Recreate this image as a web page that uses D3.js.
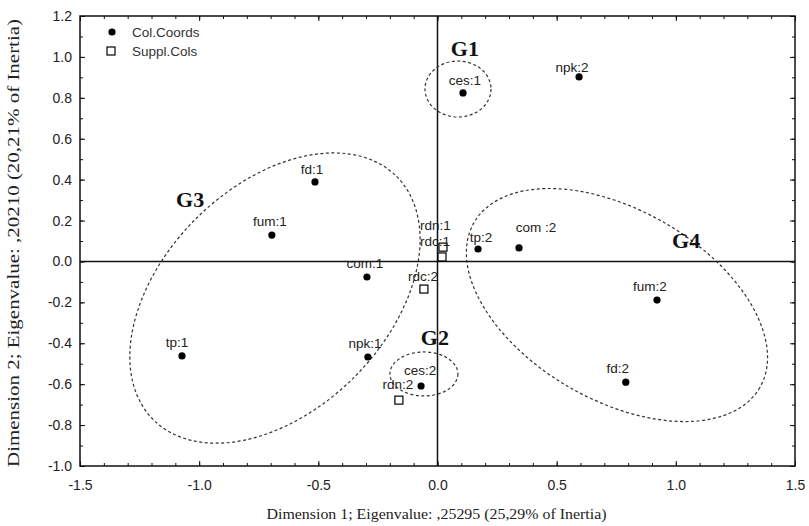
<!DOCTYPE html>
<html><head><meta charset="utf-8">
<script src="https://cdn.jsdelivr.net/npm/d3@7"></script>
<style>body{margin:0;background:#fff}</style>
</head><body>
<svg id="c" width="809" height="526"></svg>
<script>
// ---- data ----
const colLabels = ["ces:1","npk:2","fd:1","fum:1","com:1","tp:1","npk:1","ces:2","tp:2","com :2","fum:2","fd:2"];
const colX = [0.107, 0.594, -0.514, -0.695, -0.296, -1.072, -0.292, -0.069, 0.170, 0.342, 0.921, 0.790];
const colY = [0.824, 0.902, 0.389, 0.129, -0.076, -0.462, -0.467, -0.609, 0.061, 0.066, -0.189, -0.590];
const supLabels = ["rdn:1","rdc:1","rdc:2","rdn:2"];
const supX = [0.023, 0.019, -0.057, -0.162];
const supY = [0.070, 0.022, -0.135, -0.678];
const groupNames = ["G1","G2","G3","G4"];
const groupCx = [0.086, -0.057, -0.682, 0.753];
const groupCy = [0.843, -0.550, -0.179, -0.213];
const groupLabelX = [0.115, -0.011, -1.038, 1.043];
const groupLabelY = [1.004, -0.409, 0.266, 0.066];
const xTickValues = [-1.5, -1.0, -0.5, 0.0, 0.5, 1.0, 1.5];
const xTickLabels = ["-1.5","-1.0","-0.5","0.0","0.5","1.0","1.5"];
const yTickValues = [-1.0,-0.8,-0.6,-0.4,-0.2,0.0,0.2,0.4,0.6,0.8,1.0,1.2];
const yTickLabels = ["-1.0","-0.8","-0.6","-0.4","-0.2","0.0","0.2","0.4","0.6","0.8","1.0","1.2"];
const legendLabels = ["Col.Coords","Suppl.Cols"];
const xTitle = "Dimension 1; Eigenvalue: ,25295 (25,29% of Inertia)";
const yTitle = "Dimension 2; Eigenvalue: ,20210 (20,21% of Inertia)";

// ---- style / layout ----
const L = 80, R = 795, T = 16, B = 466;
const ellipseStyle = [ {rx:33, ry:28, rot:0}, {rx:34, ry:22, rot:0}, {rx:172, ry:112, rot:-45}, {rx:165, ry:95, rot:30} ];
const labelOff = {
  "ces:1":[2,-8,"middle"], "npk:2":[-7,-5,"middle"], "fd:1":[-3,-8,"middle"], "fum:1":[-2,-9,"middle"],
  "com:1":[-2,-9,"middle"], "tp:1":[-5,-9,"middle"], "npk:1":[-3,-9,"middle"], "ces:2":[-1,-11,"middle"],
  "tp:2":[3,-7,"middle"], "com :2":[17,-16,"middle"], "fum:2":[-7,-9,"middle"], "fd:2":[-8,-9,"middle"],
  "rdn:1":[-23,-17,"start"], "rdc:1":[-22,-11,"start"], "rdc:2":[-1,-8,"middle"], "rdn:2":[-1,-11,"middle"]
};

const svg = d3.select("#c");
const x = d3.scaleLinear().domain([-1.5, 1.5]).range([L, R]);
const y = d3.scaleLinear().domain([-1.0, 1.2]).range([B, T]);
const ink = "#111";
const sans = "'Liberation Sans', Arial, sans-serif";
const serif = "'Liberation Serif', 'Times New Roman', serif";

function styleAxis(g){ g.select(".domain").remove(); g.selectAll("line").attr("stroke", ink).attr("stroke-width",1); }
const xMinor = x.ticks(30), yMinor = y.ticks(22);
// minor ticks on all sides
svg.append("g").attr("transform",`translate(0,${B})`).call(d3.axisBottom(x).tickValues(xMinor).tickSize(-3).tickFormat("")).call(styleAxis);
svg.append("g").attr("transform",`translate(0,${T})`).call(d3.axisTop(x).tickValues(xMinor).tickSize(-3).tickFormat("")).call(styleAxis);
svg.append("g").attr("transform",`translate(${L},0)`).call(d3.axisLeft(y).tickValues(yMinor).tickSize(-3).tickFormat("")).call(styleAxis);
svg.append("g").attr("transform",`translate(${R},0)`).call(d3.axisRight(y).tickValues(yMinor).tickSize(-3).tickFormat("")).call(styleAxis);
// major ticks with labels
const gxb = svg.append("g").attr("transform",`translate(0,${B})`)
  .call(d3.axisBottom(x).tickValues(xTickValues).tickSize(-5).tickPadding(14).tickFormat((d,i)=>xTickLabels[i])).call(styleAxis);
gxb.selectAll("text").attr("font-family",sans).attr("font-size",14).attr("fill","#222");
const gyl = svg.append("g").attr("transform",`translate(${L},0)`)
  .call(d3.axisLeft(y).tickValues(yTickValues).tickSize(-5).tickPadding(8).tickFormat((d,i)=>yTickLabels[i])).call(styleAxis);
gyl.selectAll("text").attr("font-family",sans).attr("font-size",14).attr("fill","#222");
svg.append("g").attr("transform",`translate(0,${T})`).call(d3.axisTop(x).tickValues(xTickValues).tickSize(-5).tickFormat("")).call(styleAxis);
svg.append("g").attr("transform",`translate(${R},0)`).call(d3.axisRight(y).tickValues(yTickValues).tickSize(-5).tickFormat("")).call(styleAxis);

// frame
svg.append("rect").attr("x",L).attr("y",T).attr("width",R-L).attr("height",B-T)
  .attr("fill","none").attr("stroke",ink).attr("stroke-width",1.5);
// zero lines
svg.append("line").attr("x1",x(0)).attr("x2",x(0)).attr("y1",T).attr("y2",B).attr("stroke",ink).attr("stroke-width",1.5);
svg.append("line").attr("x1",L).attr("x2",R).attr("y1",y(0)).attr("y2",y(0)).attr("stroke",ink).attr("stroke-width",1.5);

// ellipses
groupNames.forEach((n,i)=>{
  const s = ellipseStyle[i];
  svg.append("ellipse").attr("cx",0).attr("cy",0).attr("rx",s.rx).attr("ry",s.ry)
    .attr("transform",`translate(${x(groupCx[i])},${y(groupCy[i])}) rotate(${s.rot})`)
    .attr("fill","none").attr("stroke","#333").attr("stroke-width",1.2).attr("stroke-dasharray","3,2.5");
  svg.append("text").attr("x",x(groupLabelX[i])).attr("y",y(groupLabelY[i])).attr("text-anchor","middle")
    .attr("font-family",serif).attr("font-weight","bold").attr("font-size",22).attr("fill","#111").text(n);
});

// points
colLabels.forEach((lab,i)=>{
  const px = x(colX[i]), py = y(colY[i]);
  svg.append("circle").attr("cx",px).attr("cy",py).attr("r",3.6).attr("fill","#000");
  const o = labelOff[lab];
  svg.append("text").attr("x",px+o[0]).attr("y",py+o[1]).attr("text-anchor",o[2])
    .attr("font-family",sans).attr("font-size",13.5).attr("fill","#222").text(lab);
});
supLabels.forEach((lab,i)=>{
  const px = x(supX[i]), py = y(supY[i]);
  svg.append("rect").attr("x",px-4).attr("y",py-4).attr("width",8).attr("height",8)
    .attr("fill","#fff").attr("stroke","#000").attr("stroke-width",1.2);
  const o = labelOff[lab];
  svg.append("text").attr("x",px+o[0]).attr("y",py+o[1]).attr("text-anchor",o[2])
    .attr("font-family",sans).attr("font-size",13.5).attr("fill","#222").text(lab);
});

// legend
const lg = svg.append("g");
lg.append("circle").attr("cx",112).attr("cy",32).attr("r",3.6).attr("fill","#000");
lg.append("rect").attr("x",107).attr("y",47).attr("width",8).attr("height",8).attr("fill","#fff").attr("stroke","#000").attr("stroke-width",1.2);
legendLabels.forEach((t,i)=>{
  lg.append("text").attr("x",132).attr("y",37+i*19).attr("font-family",sans).attr("font-size",13.5).attr("fill","#333").text(t);
});

// axis titles
svg.append("text").attr("x",(L+R)/2 - 1).attr("y",519).attr("text-anchor","middle")
  .attr("font-family",serif).attr("font-size",15).attr("fill","#222")
  .attr("textLength",340).attr("lengthAdjust","spacingAndGlyphs").text(xTitle);
svg.append("text").attr("transform",`translate(19,${243}) rotate(-90)`).attr("text-anchor","middle")
  .attr("font-family",serif).attr("font-size",16).attr("fill","#222")
  .attr("textLength",448).attr("lengthAdjust","spacingAndGlyphs").text(yTitle);
</script>
</body></html>
